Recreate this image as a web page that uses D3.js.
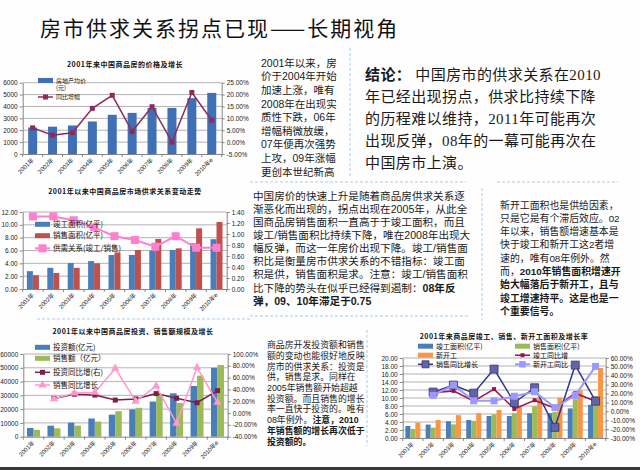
<!DOCTYPE html>
<html>
<head>
<meta charset="utf-8">
<script src="https://cdn.jsdelivr.net/npm/d3@7"></script>
<style>
  body { margin: 0; background: #fff; }
  svg { display: block; }
</style>
</head>
<body>
<script>
// ---- data ----
var years = ["2001年", "2002年", "2003年", "2004年", "2005年", "2006年", "2007年", "2008年", "2009年", "2010年e"];

// chart 1: average price and growth
var priceAvg = [2230, 2300, 2400, 2740, 3300, 3460, 3880, 3880, 4700, 5140];
var priceGrowth = [6.0, 2.9, 3.9, 14.2, 19.7, 4.5, 14.9, 0.0, 20.9, 9.2];

// chart 2: completed vs sold floor area (100m m2) and ratio
var completedArea = [2.78, 3.30, 4.04, 4.35, 5.30, 5.30, 6.00, 6.08, 7.13, 7.76];
var soldArea = [2.15, 2.50, 3.30, 4.00, 5.70, 6.08, 7.80, 6.34, 9.45, 10.45];
var supplyRatio = [1.32, 1.32, 1.25, 1.12, 0.96, 0.89, 0.77, 0.96, 0.75, 0.75];

// chart 3: investment and sales value (100m yuan) and growth (%)
var investment = [6300, 8000, 10200, 13200, 16000, 19800, 25500, 31500, 36800, 50000];
var salesValue = [5000, 6100, 8000, 11000, 18500, 21000, 29800, 24500, 44300, 52000];
var investGrowth = [null, 24.8, 32, 30.5, 22, 24, 33, 25, 17.5, 38];
var salesGrowth = [null, 24, 34, 35, 75.6, 20, 45.7, -17.5, 77, 18];

// chart 4: completed / sold / new-start area and growth (%)
var completed4 = [3.0, 3.36, 4.18, 4.5, 5.5, 5.5, 6.2, 6.2, 7.4, 8.3];
var sold4 = [2.27, 2.6, 3.4, 4.27, 5.9, 6.2, 7.9, 6.5, 9.7, 10.5];
var newStart4 = [3.86, 4.5, 5.7, 6.2, 7.0, 8.0, 10.1, 10.1, 11.9, 17.5];
var completedGrowth = [null, 21, 23, 11.4, 25, 2.7, 12.5, 3.5, 20.4, 11.4];
var soldAreaGrowth = [null, 21.6, 29.5, 20.4, 47.5, 9.9, 26.5, -18, 52, 11.4];
var newStartGrowth = [null, 18, 29.5, 11.8, 11.8, 17, 22, 4.2, 18, 50.5];

// ---- text ----
var slideTitle = "房市供求关系拐点已现——长期视角";
var textA = ["2001年以来，房", "价于2004年开始", "加速上涨，唯有", "2008年在出现实", "质性下跌，06年",
  "增幅稍微放缓，", "07年便再次强势", "上攻，09年涨幅", "更创本世纪新高"];
var conclusion = ["**结论：**  中国房市的供求关系在2010", "年已经出现拐点，供求比持续下降",
  "的历程难以维持，2011年可能再次", "出现反弹，08年的一幕可能再次在", "中国房市上演。"];
var textC = ["中国房价的快速上升是随着商品房供求关系逐", "渐恶化而出现的，拐点出现在2005年，从此全",
  "国商品房销售面积一直高于于竣工面积，而且", "竣工/销售面积比持续下降，唯在2008年出现大",
  "幅反弹，而这一年房价出现下降。竣工/销售面", "积比是衡量房市供求关系的不错指标：竣工面",
  "积是供，销售面积是求。注意：竣工/销售面积", "比下降的势头在似乎已经得到遏制：**08年反",
  "弹，09、10年滞足于0.75**"];
var textD = ["新开工面积也是供给因素，", "只是它是有个滞后效应。02", "年以来，销售额增速基本是",
  "快于竣工和新开工这2者增", "速的，唯有08年例外。然", "而，**2010年销售面积增速开",
  "始大幅落后于新开工，且与", "竣工增速持平。这是也是一", "个重要信号。**"];
var textE = ["商品房开发投资额和销售", "额的变动也能很好地反映", "房市的供求关系：投资是",
  "供，销售是求。同样在", "2005年销售额开始超越", "投资额。而且销售的增长", "率一直快于投资的。唯有",
  "08年例外。**注意，2010", "年销售额的增长再次低于", "投资额的。**"];

// ---- setup ----
var width = 640, height = 470;
var svg = d3.select("body").append("svg")
  .attr("width", width)
  .attr("height", height);

var cjk = "'Noto Sans CJK SC', sans-serif";
var mixed = "'Liberation Sans', 'Noto Sans CJK SC', sans-serif";
var serifMixed = "'Liberation Serif', 'Noto Sans CJK SC', serif";

svg.append("rect").attr("width", width).attr("height", height).attr("fill", "#fefefe");
svg.append("rect").attr("x", 0).attr("y", 467).attr("width", width).attr("height", 3).attr("fill", "#3a3a3a");

// separators
function dashed(x1, y1, x2, y2) {
  svg.append("line").attr("x1", x1).attr("y1", y1).attr("x2", x2).attr("y2", y2)
    .attr("stroke", "#a9cbe8").attr("stroke-width", 1).attr("stroke-dasharray", "3,2");
}
dashed(250, 182, 466, 182);
dashed(497, 182, 618, 182);
dashed(250, 316, 468, 316);
dashed(37, 319, 250, 319);
dashed(350, 48, 350, 178);
dashed(482, 188, 482, 320);
dashed(367, 330, 367, 446);

// slide title
svg.append("text")
  .attr("x", 40).attr("y", 35.5)
  .style("font-family", cjk).style("font-size", "21px").style("fill", "#111")
  .style("letter-spacing", "2px")
  .text(slideTitle);

// text block helper, "**" toggles bold; y values are line centres
function textBlock(lines, x, y0, dy, size, family, spacing) {
  var bold = false;
  var t = svg.append("text")
    .style("font-family", family).style("font-size", size + "px").style("fill", "#1a1a1a")
    .style("letter-spacing", (spacing || 0) + "px");
  lines.forEach(function(line, i) {
    var parts = line.split("**");
    var first = true;
    parts.forEach(function(p, k) {
      if (k > 0) bold = !bold;
      if (p === "") return;
      var ts = t.append("tspan").text(p).style("font-weight", bold ? "bold" : "normal");
      if (first) {
        ts.attr("x", x).attr("y", y0 + i * dy + size * 0.36);
        first = false;
      }
    });
  });
}

textBlock(textA, 261, 63, 13.6, 10.5, mixed, 0);
textBlock(conclusion, 365, 75, 22, 15, serifMixed, 0.4);
textBlock(textC, 253, 196, 13.1, 10.6, mixed, 0);
textBlock(textD, 500, 205, 13.3, 9.9, mixed, 0);
textBlock(textE, 267, 345, 10.7, 8.9, mixed, 0);

// ---- chart helper ----
function drawChart(c) {
  var g = svg.append("g");
  var x = d3.scaleBand().domain(years).range([c.x0, c.x1]);
  var yL = d3.scaleLinear().domain(c.left.domain).range([c.y1, c.y0]);
  var yR = d3.scaleLinear().domain(c.right.domain).range([c.y1, c.y0]);

  // title
  g.append("text")
    .attr("x", c.titleX).attr("y", c.titleY + 2.5)
    .attr("text-anchor", "middle")
    .style("font-family", cjk).style("font-size", "7px").style("font-weight", "bold")
    .style("letter-spacing", "0.5px").style("fill", "#111")
    .text(c.title);

  // gridlines
  g.append("g").selectAll("line")
    .data(c.left.ticks.slice(1))
    .join("line")
    .attr("x1", c.x0).attr("x2", c.x1)
    .attr("y1", function(d) { return yL(d); })
    .attr("y2", function(d) { return yL(d); })
    .attr("stroke", "#a0a0a0").attr("stroke-width", 0.8);

  // bars
  var groupW = c.barW * c.bars.length;
  var inner = d3.scaleBand().domain(d3.range(c.bars.length)).range([0, groupW]);
  c.bars.forEach(function(b, i) {
    g.append("g").selectAll("rect")
      .data(b.values)
      .join("rect")
      .attr("x", function(d, j) { return x(years[j]) + (x.bandwidth() - groupW) / 2 + inner(i); })
      .attr("y", function(d) { return yL(d); })
      .attr("width", inner.bandwidth())
      .attr("height", function(d) { return yL(c.left.domain[0]) - yL(d); })
      .attr("fill", b.color);
  });

  // axes
  var axL = g.append("g")
    .attr("transform", "translate(" + c.x0 + ",0)")
    .call(d3.axisLeft(yL).tickValues(c.left.ticks).tickFormat(c.left.fmt).tickSizeInner(3).tickSizeOuter(0).tickPadding(2));
  var axR = g.append("g")
    .attr("transform", "translate(" + c.x1 + ",0)")
    .call(d3.axisRight(yR).tickValues(c.right.ticks).tickFormat(c.right.fmt).tickSizeInner(3).tickSizeOuter(0).tickPadding(2));
  var axB = g.append("g")
    .attr("transform", "translate(0," + c.y1 + ")")
    .call(d3.axisBottom(x).tickFormat("").tickSize(0));
  g.append("g").selectAll("line")
    .data(years.map(function(d) { return x(d); }).concat([x.range()[1]]))
    .join("line")
    .attr("x1", function(d) { return d; }).attr("x2", function(d) { return d; })
    .attr("y1", c.y1).attr("y2", c.y1 + 3)
    .attr("stroke", "#868686");
  [axL, axR, axB].forEach(function(a) {
    a.selectAll("path, line").attr("stroke", "#868686");
    a.selectAll("text").style("font-family", mixed).style("font-size", "6.5px").style("fill", "#222");
  });

  // category labels
  g.append("g").selectAll("text")
    .data(years)
    .join("text")
    .attr("transform", function(d) {
      return "translate(" + (x(d) + x.bandwidth() / 2) + "," + (c.y1 + 5) + ") rotate(-45)";
    })
    .attr("text-anchor", "end").attr("dy", "0.35em")
    .style("font-family", mixed).style("font-size", "6px").style("fill", "#222")
    .text(function(d) { return d; });

  // lines
  c.lines.forEach(function(l) {
    var line = d3.line()
      .defined(function(d) { return d != null; })
      .x(function(d, j) { return x(years[j]) + x.bandwidth() / 2; })
      .y(function(d) { return yR(d); });
    g.append("path").datum(l.values)
      .attr("d", line)
      .attr("fill", "none").attr("stroke", l.color).attr("stroke-width", l.width);
    var sym = d3.symbol().type(l.symbol).size(l.size);
    g.append("g").selectAll("path")
      .data(l.values.map(function(v, j) { return { v: v, j: j }; }).filter(function(d) { return d.v != null; }))
      .join("path")
      .attr("d", sym)
      .attr("transform", function(d) {
        return "translate(" + (x(years[d.j]) + x.bandwidth() / 2) + "," + yR(d.v) + ")";
      })
      .attr("fill", l.fill || l.color).attr("stroke", l.stroke || "none").attr("stroke-width", 0.8);
  });

  // legend
  var fs = c.legendSize || 7.5;
  c.legend.forEach(function(it) {
    var lg = g.append("g").attr("transform", "translate(" + it.x + "," + it.y + ")");
    if (it.kind === "rect") {
      lg.append("rect").attr("x", 0).attr("y", -2.5).attr("width", 15).attr("height", 5).attr("fill", it.color);
    } else {
      lg.append("line").attr("x1", 0).attr("x2", 15).attr("y1", 0).attr("y2", 0)
        .attr("stroke", it.color).attr("stroke-width", it.width);
      lg.append("path").attr("d", d3.symbol().type(it.symbol).size(it.size)())
        .attr("transform", "translate(7.5,0)")
        .attr("fill", it.fill || it.color).attr("stroke", it.stroke || "none").attr("stroke-width", 0.8);
    }
    it.label.split("\n").forEach(function(s, k) {
      lg.append("text").attr("x", 18).attr("y", k * (fs + 1.5) + fs * 0.36)
        .style("font-family", cjk).style("font-size", fs + "px").style("fill", "#111")
        .text(s);
    });
  });
}

function fixed2(d) { return d.toFixed(2); }
function pct2(d) { return d.toFixed(2) + "%"; }

// chart 1
drawChart({
  x0: 22.7, x1: 221.7, y0: 82.7, y1: 154,
  title: "2001年来中国商品房的价格及增长", titleX: 125, titleY: 64,
  left: { domain: [0, 6000], ticks: d3.range(0, 6001, 1000), fmt: function(d) { return d; } },
  right: { domain: [-5, 25], ticks: d3.range(-5, 26, 5), fmt: pct2 },
  bars: [{ values: priceAvg, color: "#3f70b6" }], barW: 9,
  lines: [{ values: priceGrowth, color: "#8e2a5c", width: 1.5, symbol: d3.symbolSquare, size: 25 }],
  legendSize: 6,
  legend: [
    { kind: "rect", x: 38, y: 80.5, color: "#3f70b6", label: "房地产均价\n(元)" },
    { kind: "line", x: 38, y: 97, color: "#8e2a5c", width: 1.5, symbol: d3.symbolSquare, size: 25, label: "同比增幅" }
  ]
});

// chart 2
drawChart({
  x0: 22.7, x1: 226.7, y0: 212, y1: 289,
  title: "2001年以来中国商品房市场供求关系变动走势", titleX: 125, titleY: 191,
  left: { domain: [0, 12], ticks: d3.range(0, 12.01, 2), fmt: fixed2 },
  right: { domain: [0, 1.4], ticks: d3.range(0, 7.5).map(function(i) { return i * 0.2; }), fmt: fixed2 },
  bars: [{ values: completedArea, color: "#4a7ebb" }, { values: soldArea, color: "#c0504d" }], barW: 6,
  lines: [{ values: supplyRatio, color: "#ff7fcf", width: 2, symbol: d3.symbolSquare, size: 64 }],
  legend: [
    { kind: "rect", x: 35, y: 224.3, color: "#4a7ebb", label: "竣工面积(亿平)" },
    { kind: "rect", x: 35, y: 235.7, color: "#c0504d", label: "销售面积(亿平)" },
    { kind: "line", x: 35, y: 248.3, color: "#ff7fcf", width: 2, symbol: d3.symbolSquare, size: 64, label: "供需关系(竣工/销售)" }
  ]
});

// chart 3
drawChart({
  x0: 23.3, x1: 227.7, y0: 354, y1: 436.7,
  title: "2001年以来中国商品房投资、销售额规模及增长", titleX: 133, titleY: 331,
  left: { domain: [0, 60000], ticks: d3.range(0, 60001, 10000), fmt: function(d) { return d; } },
  right: { domain: [-40, 100], ticks: d3.range(-40, 101, 20), fmt: pct2 },
  bars: [{ values: investment, color: "#4a7ebb" }, { values: salesValue, color: "#9bbb59" }], barW: 6.5,
  lines: [
    { values: investGrowth, color: "#7b1f4b", width: 1.5, symbol: d3.symbolSquare, size: 25 },
    { values: salesGrowth, color: "#ff99cc", width: 1.5, symbol: d3.symbolTriangle, size: 30 }
  ],
  legend: [
    { kind: "rect", x: 35, y: 347.3, color: "#4a7ebb", label: "投资额(亿元)" },
    { kind: "rect", x: 35, y: 358.3, color: "#9bbb59", label: "销售额（亿元）" },
    { kind: "line", x: 35, y: 372.3, color: "#7b1f4b", width: 1.5, symbol: d3.symbolSquare, size: 25, label: "投资同比增(右)" },
    { kind: "line", x: 35, y: 385, color: "#ff99cc", width: 1.5, symbol: d3.symbolTriangle, size: 30, label: "销售同比增长" }
  ]
});

// chart 4
drawChart({
  x0: 402.7, x1: 605.7, y0: 358, y1: 438,
  title: "2001年来商品房竣工、销售、新开工面积及增长率", titleX: 504, titleY: 336,
  left: { domain: [0, 20], ticks: d3.range(0, 20.01, 2), fmt: fixed2 },
  right: { domain: [-30, 60], ticks: d3.range(-30, 61, 10), fmt: pct2 },
  bars: [
    { values: completed4, color: "#4a7ebb" },
    { values: sold4, color: "#9bbb59" },
    { values: newStart4, color: "#f79646" }
  ], barW: 5,
  lines: [
    { values: completedGrowth, color: "#a0104a", width: 1.5, symbol: d3.symbolSquare, size: 16 },
    { values: soldAreaGrowth, color: "#333388", width: 1.5, symbol: d3.symbolSquare, size: 64, fill: "#6464a8", stroke: "#333377" },
    { values: newStartGrowth, color: "#9999ff", width: 2, symbol: d3.symbolSquare, size: 49 }
  ],
  legendSize: 7,
  legend: [
    { kind: "rect", x: 418, y: 346.2, color: "#4a7ebb", label: "竣工面积(亿平)" },
    { kind: "rect", x: 515, y: 346.2, color: "#9bbb59", label: "销售面积(亿平)" },
    { kind: "rect", x: 418, y: 355.2, color: "#f79646", label: "新开工" },
    { kind: "line", x: 515, y: 355.2, color: "#a0104a", width: 1.5, symbol: d3.symbolSquare, size: 16, label: "竣工同比增" },
    { kind: "line", x: 418, y: 364.3, color: "#333388", width: 1.5, symbol: d3.symbolSquare, size: 49, fill: "#6464a8", stroke: "#333377", label: "销售同比增长" },
    { kind: "line", x: 515, y: 364.3, color: "#9999ff", width: 2, symbol: d3.symbolSquare, size: 42, label: "新开工同比" }
  ]
});
</script>
</body>
</html>
